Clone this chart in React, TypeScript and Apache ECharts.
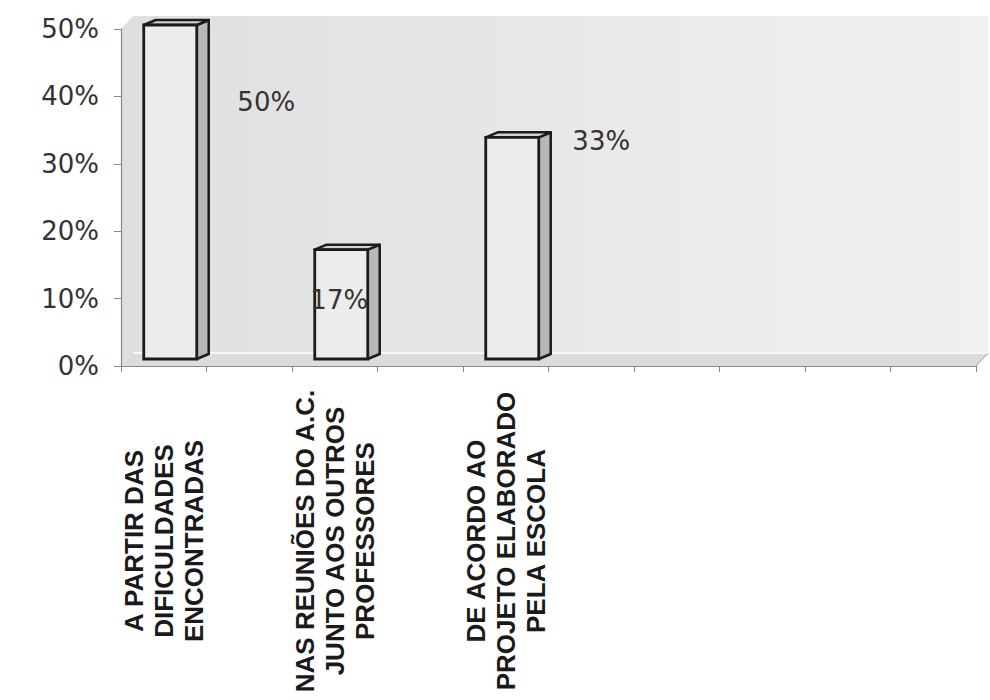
import React, { useEffect, useRef } from "react";
import * as echarts from "echarts";

const categories = [
  "A PARTIR DAS\nDIFICULDADES\nENCONTRADAS",
  "",
  "NAS REUNIÕES DO A.C.\nJUNTO AOS OUTROS\nPROFESSORES",
  "",
  "DE ACORDO AO\nPROJETO ELABORADO\nPELA ESCOLA",
  "",
  "",
  "",
  "",
  "",
];
const values: (number | null)[] = [50, null, 16.67, null, 33.33, null, null, null, null, null];
const yMin = 0;
const yMax = 50;
const yStep = 10;

// label placement (relative to bar front centre / top), styling only
const labelOffsets: Record<number, [number, number]> = {
  0: [96, 77],
  2: [-2, 50],
  4: [89, 4],
};

const GRID = { left: 121, right: 14, top: 29, bottom: 334 };
const W = 990;
const H = 700;

export default function App() {
  const ref = useRef<HTMLDivElement>(null);
  useEffect(() => {
    if (!ref.current) return;
    const chart = echarts.init(ref.current, undefined, { renderer: "svg" });
    const L = GRID.left;
    const R = W - GRID.right;
    const T = GRID.top;
    const B = H - GRID.bottom;
    const dx = 12;
    const dy = -13;
    const data = values
      .map((v, i) => (v == null ? null : [i, v]))
      .filter((d) => d != null) as number[][];

    const option: any = {
      animation: false,
      backgroundColor: "#ffffff",
      grid: { left: GRID.left, right: GRID.right, top: GRID.top, bottom: GRID.bottom, containLabel: false },
      graphic: [
        {
          type: "polygon",
          z: -10,
          silent: true,
          shape: {
            points: [
              [L, B],
              [L, T],
              [L + dx, T + dy],
              [R + dx, T + dy],
              [R + dx, B + dy],
              [R, B],
            ],
          },
          style: {
            fill: new echarts.graphic.LinearGradient(0, 0, 1, 0, [
              { offset: 0, color: "#dfdfdf" },
              { offset: 0.5, color: "#e8e8e8" },
              { offset: 1, color: "#f0f0f0" },
            ]),
            stroke: null,
          },
        },
        {
          type: "polygon",
          z: -9,
          silent: true,
          shape: {
            points: [
              [L, B],
              [L + dx, B + dy],
              [R + dx, B + dy],
              [R, B],
            ],
          },
          style: { fill: "#dcdcdc", stroke: null },
        },
        {
          type: "line",
          z: -8,
          silent: true,
          shape: { x1: L + dx, y1: B + dy, x2: R + dx, y2: B + dy },
          style: { stroke: "#f8f8f8", lineWidth: 2 },
        },
        {
          type: "line",
          z: -8,
          silent: true,
          shape: { x1: R, y1: B, x2: R + dx, y2: B + dy },
          style: { stroke: "#999", lineWidth: 1 },
        },
      ],
      xAxis: {
        type: "category",
        data: categories,
        boundaryGap: true,
        axisLine: { show: true, lineStyle: { color: "#888", width: 1.2 } },
        axisTick: { show: true, length: 6, lineStyle: { color: "#888" } },
        axisLabel: {
          interval: 0,
          rotate: 90,
          align: "center",
          verticalAlign: "middle",
          margin: 175,
          fontFamily: "Liberation Sans, Arial, sans-serif",
          fontWeight: "bold",
          fontSize: 26,
          lineHeight: 30,
          color: "#1a1a1a",
        },
        splitLine: { show: false },
      },
      yAxis: {
        type: "value",
        min: yMin,
        max: yMax,
        interval: yStep,
        axisLine: { show: true, lineStyle: { color: "#888", width: 1.2 } },
        axisTick: { show: true, length: 7, lineStyle: { color: "#888" } },
        axisLabel: {
          formatter: "{value}%",
          fontFamily: "DejaVu Sans, sans-serif",
          fontSize: 26,
          color: "#333",
          margin: 22,
        },
        splitLine: { show: false },
      },
      series: [
        {
          type: "custom",
          data,
          encode: { x: 0, y: 1 },
          z: 5,
          renderItem: (params: any, api: any) => {
            const i = api.value(0);
            const v = api.value(1);
            const top = api.coord([i, v]);
            const base = api.coord([i, 0]);
            const band = api.size([1, 0])[0];
            const w = band * 0.62;
            const x0 = top[0] - band * 0.234;
            const sx = band * 0.14;
            const sy = -5;
            const yTop = top[1] - 4;
            const yBot = base[1] - 7;
            const cx = x0 + w / 2;
            const off = labelOffsets[i] || [0, -20];
            const border = "#1c1c1c";
            return {
              type: "group",
              children: [
                {
                  type: "polygon",
                  shape: {
                    points: [
                      [x0 + w, yBot],
                      [x0 + w + sx, yBot + sy],
                      [x0 + w + sx, yTop + sy],
                      [x0 + w, yTop],
                    ],
                  },
                  style: { fill: "#b8b8b8", stroke: border, lineWidth: 2.5, lineJoin: "round" },
                },
                {
                  type: "polygon",
                  shape: {
                    points: [
                      [x0, yTop],
                      [x0 + w, yTop],
                      [x0 + w + sx, yTop + sy],
                      [x0 + sx, yTop + sy],
                    ],
                  },
                  style: { fill: "#d2d2d2", stroke: border, lineWidth: 2.5, lineJoin: "round" },
                },
                {
                  type: "rect",
                  shape: { x: x0, y: yTop, width: w, height: yBot - yTop },
                  style: { fill: "#ececec", stroke: border, lineWidth: 2.8 },
                },
                {
                  type: "text",
                  z2: 10,
                  style: {
                    text: Math.round(v) + "%",
                    x: cx + off[0],
                    y: yTop + off[1],
                    align: "center",
                    verticalAlign: "middle",
                    fontFamily: "DejaVu Sans, sans-serif",
                    fontSize: 26,
                    fill: "#333",
                  },
                },
              ],
            };
          },
        },
      ],
    };
    chart.setOption(option);
    return () => chart.dispose();
  }, []);
  return (
    <div
      ref={ref}
      style={{ position: "fixed", left: 0, top: 0, width: W + "px", height: H + "px", background: "#fff" }}
    />
  );
}
